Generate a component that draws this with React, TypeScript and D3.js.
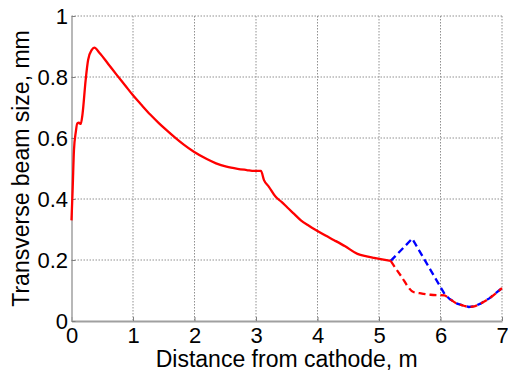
import React, { useEffect, useRef } from 'react';
import * as d3 from 'd3';

// values
const solidX = [0, 0.02, 0.04, 0.07, 0.094, 0.12, 0.15, 0.18, 0.23, 0.27, 0.33, 0.37, 0.46, 0.6, 0.735, 0.87, 1.0, 1.14, 1.28, 1.42, 1.55, 1.68, 1.82, 1.99, 2.2, 2.35, 2.52, 2.7, 2.85, 2.97, 3.08, 3.13, 3.21, 3.32, 3.42, 3.51, 3.62, 3.73, 3.86, 4.0, 4.13, 4.27, 4.45, 4.65, 4.8, 4.92, 5.05, 5.19];
const solidY = [0.33, 0.44, 0.56, 0.62, 0.648, 0.65, 0.646, 0.68, 0.79, 0.856, 0.889, 0.896, 0.878, 0.842, 0.807, 0.773, 0.74, 0.708, 0.677, 0.649, 0.625, 0.602, 0.579, 0.555, 0.531, 0.517, 0.506, 0.499, 0.495, 0.492, 0.492, 0.462, 0.44, 0.407, 0.39, 0.372, 0.351, 0.33, 0.312, 0.295, 0.28, 0.265, 0.245, 0.22, 0.212, 0.207, 0.202, 0.197];
const redDashX = [5.19, 5.35, 5.56, 5.7, 5.84, 6.06, 6.15, 6.27, 6.38, 6.46, 6.55, 6.65, 6.8, 7.0];
const redDashY = [0.197, 0.15, 0.095, 0.09, 0.086, 0.084, 0.072, 0.057, 0.05, 0.046, 0.048, 0.057, 0.075, 0.108];
const blueDashX = [5.19, 5.54, 6.07, 6.15, 6.27, 6.38, 6.46, 6.55, 6.65, 6.8, 7.0];
const blueDashY = [0.197, 0.27, 0.087, 0.072, 0.057, 0.05, 0.046, 0.048, 0.057, 0.075, 0.108];
const xTicks = [0, 1, 2, 3, 4, 5, 6, 7];
const yTicks = [0, 0.2, 0.4, 0.6, 0.8, 1];

const W = 508;
const H = 374;

export default function App() {
  const svgRef = useRef<SVGSVGElement>(null);

  useEffect(() => {
    if (!svgRef.current) return;
    const margin = { top: 16, right: 6, bottom: 53, left: 71.5 };
    const width = W - margin.left - margin.right;
    const height = H - margin.top - margin.bottom;

    const svg = d3.select(svgRef.current);
    svg.selectAll('*').remove();
    const g = svg.append('g').attr('transform', `translate(${margin.left},${margin.top})`);

    const x = d3.scaleLinear().domain([0, 7]).range([0, width]);
    const y = d3.scaleLinear().domain([0, 1]).range([height, 0]);

    // dotted grid
    g.append('g')
      .selectAll('line')
      .data(xTicks.slice(1))
      .enter()
      .append('line')
      .attr('x1', (d) => x(d)).attr('x2', (d) => x(d))
      .attr('y1', 0).attr('y2', height)
      .attr('stroke', '#909090').attr('stroke-width', 1).attr('stroke-dasharray', '1.5,1.5');
    g.append('g')
      .selectAll('line')
      .data(yTicks.slice(1))
      .enter()
      .append('line')
      .attr('x1', 0).attr('x2', width)
      .attr('y1', (d) => y(d)).attr('y2', (d) => y(d))
      .attr('stroke', '#909090').attr('stroke-width', 1).attr('stroke-dasharray', '1.5,1.5');

    // axes (ticks point inward)
    const font = "'Liberation Sans', Arial, sans-serif";
    const ax = g.append('g')
      .attr('transform', `translate(0,${height})`)
      .call(d3.axisBottom(x).tickValues(xTicks).tickSizeInner(-4).tickSizeOuter(0).tickPadding(6).tickFormat(d3.format('d')));
    ax.select('.domain').attr('stroke', '#a0a0a0').attr('stroke-width', 2);
    ax.selectAll('.tick line').attr('stroke', '#808080');
    ax.selectAll('text').attr('font-family', font).attr('font-size', 22).attr('fill', '#000');

    const ay = g.append('g')
      .call(d3.axisLeft(y).tickValues(yTicks).tickSizeInner(-4).tickSizeOuter(0).tickPadding(3.5).tickFormat((d) => String(+d)));
    ay.select('.domain').attr('stroke', '#a0a0a0').attr('stroke-width', 1.5);
    ay.selectAll('.tick line').attr('stroke', '#808080');
    ay.selectAll('text').attr('font-family', font).attr('font-size', 22).attr('fill', '#000');

    const line = d3.line<[number, number]>()
      .x((d) => x(d[0]))
      .y((d) => y(d[1]))
      .curve(d3.curveMonotoneX);

    const blue = blueDashX.map((v, i) => [v, blueDashY[i]] as [number, number]);
    const redDash = redDashX.map((v, i) => [v, redDashY[i]] as [number, number]);
    const solid = solidX.map((v, i) => [v, solidY[i]] as [number, number]);

    g.append('path').attr('d', d3.line<[number, number]>().x((d) => x(d[0])).y((d) => y(d[1]))(blue))
      .attr('fill', 'none').attr('stroke', '#0000ff').attr('stroke-width', 2.3).attr('stroke-dasharray', '7,4');
    g.append('path').attr('d', line(redDash))
      .attr('fill', 'none').attr('stroke', '#ff0000').attr('stroke-width', 2.3).attr('stroke-dasharray', '7,4');
    g.append('path').attr('d', line(solid))
      .attr('fill', 'none').attr('stroke', '#ff0000').attr('stroke-width', 2.3);

    // axis labels
    svg.append('text')
      .attr('x', margin.left + width / 2).attr('y', 367)
      .attr('text-anchor', 'middle')
      .attr('font-family', font).attr('font-size', 23)
      .text('Distance from cathode, m');
    svg.append('text')
      .attr('transform', `translate(29,${margin.top + height / 2}) rotate(-90)`)
      .attr('text-anchor', 'middle')
      .attr('font-family', font).attr('font-size', 23)
      .text('Transverse beam size, mm');
  }, []);

  return (
    <svg
      ref={svgRef}
      width={W}
      height={H}
      style={{ position: 'absolute', left: 0, top: 0, background: '#fff' }}
    />
  );
}
